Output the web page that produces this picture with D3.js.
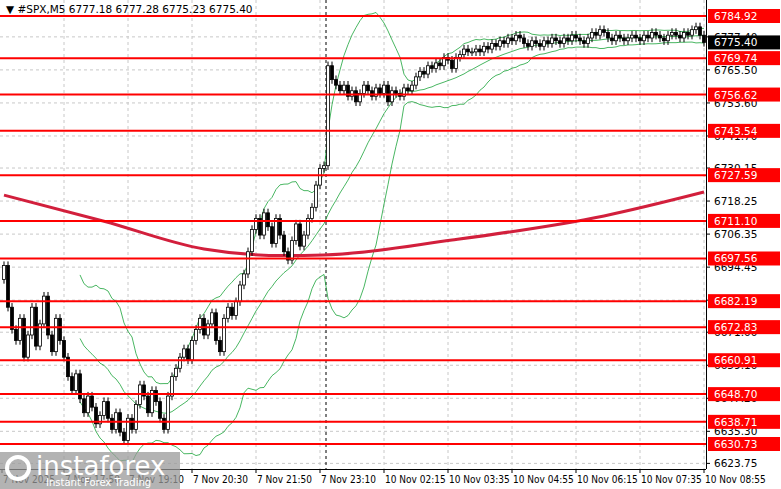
<!DOCTYPE html>
<html><head><meta charset="utf-8">
<script src="https://cdn.jsdelivr.net/npm/d3@7"></script>
<style>body{margin:0;background:#fff}svg{font-family:Tahoma,"DejaVu Sans",sans-serif}</style>
</head><body><div id="chart"></div>
<script>
// M5 closes
const closes = [6695,6680,6672,6668,6676,6662,6670,6680,6666,6674,6684,6670,6664,6676,6668,
  6662,6655,6650,6656,6647,6642,6648,6644,6638,6641,6646,6640,6636,6642,6635,6632,6640,6636,
  6645,6652,6648,6642,6650,6646,6640,6636,6648,6655,
  6658,6662,6665,6661,6668,6672,6676,6670,6674,6678,6668,6664,6676,6680,6677,6682,6688,6692,
  6700,6708,6712,6706,6714,6709,6703,6712,6706,6700,6697,6704,6710,6702,6706,
  6712,6716,6724,6730,6731,
  6767,6762,6760,6758,6760,6756,6758,6754,6757,6760,6758,6756,6759,6757,6760,6754,6758,6757,6756,6759,6758,
  6760,6763,6765,6764,6767,6766,6768,6767,6770,6769,6766,6770,6771,6773,6772,
  6772,6773,6772,6774,6773,6775,6774,6776,6775,6777,6776,6778,6777,6775,6774,6776,6775,6774,6776,6775,
  6777,6776,6775,6777,6776,6778,6777,6776,6775,6777,6779,6778,6780,6779,6777,6776,6778,6777,6776,6777,
  6778,6777,6776,6778,6777,6779,6778,6777,6776,6778,6779,6778,6777,6779,6778,6780,6781,6778,6775.4];
const firstOpen = 6690;
// slow moving average, [candle index, value]
const maPoints = [[0,6720.4],[25,6711],[50,6701],[70,6698.6],[80,6698.8],[112,6704.2],[150,6712.9],[175,6721.5]];
const levels = [6784.92,6769.74,6756.62,6743.54,6727.59,6711.10,6697.56,6682.19,6672.83,6660.91,6648.70,6638.71,6630.73];
const priceTicks = [6777.40,6765.50,6753.60,6741.70,6730.15,6718.25,6706.35,6694.45,6682.55,6671.00,6659.10,6647.20,6635.30,6623.75];
const timeLabels = ["7 Nov 2025","7 Nov 17:50","7 Nov 19:10","7 Nov 20:30","7 Nov 21:50","7 Nov 23:10","10 Nov 02:15","10 Nov 03:35","10 Nov 04:55","10 Nov 06:15","10 Nov 07:35","10 Nov 08:55"];
const lastPrice = 6775.40;

const W = 781, H = 489, right = 706, bottom = 469;
const svg = d3.select("#chart").append("svg").attr("width", W).attr("height", H);

const n = closes.length;
const x = d3.scaleLinear().domain([-0.5, n - 0.5]).range([2, right]);
const y = d3.scaleLinear().domain([6630.73, 6784.92]).range([444, 16]);

const candles = closes.map((c, i) => {
  const o = i ? closes[i - 1] : firstOpen;
  return {i, o, c, h: Math.max(o, c) + 1.5, l: Math.min(o, c) - 1.5};
});

// grid
const tickIdx = timeLabels.map((d, k) => k * 16 - 1);
svg.append("g").selectAll("line").data(tickIdx.slice(1)).join("line")
  .attr("x1", d => x(d)).attr("x2", d => x(d)).attr("y1", 0).attr("y2", bottom)
  .attr("stroke", "#c8c8c8").attr("stroke-dasharray", "3,3");
svg.append("g").selectAll("line").data(priceTicks).join("line")
  .attr("x1", 0).attr("x2", right).attr("y1", d => y(d)).attr("y2", d => y(d))
  .attr("stroke", "#c8c8c8").attr("stroke-dasharray", "3,3");
// period separator
svg.append("line").attr("x1", x(80.5)).attr("x2", x(80.5)).attr("y1", 0).attr("y2", bottom)
  .attr("stroke", "#000").attr("stroke-dasharray", "3,3");

// bollinger 20,2
const bb = [];
for (let i = 19; i < n; i++) {
  const w = closes.slice(i - 19, i + 1), m = d3.mean(w), s = d3.deviation(w) * Math.sqrt(19 / 20);
  bb.push({i, m, u: m + 2 * s, d: m - 2 * s});
}
["m", "u", "d"].forEach(k => svg.append("path").datum(bb)
  .attr("d", d3.line().x(d => x(d.i)).y(d => y(d[k])))
  .attr("fill", "none").attr("stroke", "#1aa33a").attr("stroke-width", 0.8));

// moving average
svg.append("path").datum(maPoints)
  .attr("d", d3.line().x(d => x(d[0])).y(d => y(d[1])).curve(d3.curveMonotoneX))
  .attr("fill", "none").attr("stroke", "#d21f3c").attr("stroke-width", 3);

// candles
const cg = svg.append("g").selectAll("g").data(candles).join("g");
cg.append("line").attr("x1", d => x(d.i)).attr("x2", d => x(d.i))
  .attr("y1", d => y(d.h)).attr("y2", d => y(d.l)).attr("stroke", "#000");
cg.append("rect").attr("x", d => x(d.i) - 1.5).attr("width", 3)
  .attr("y", d => y(Math.max(d.o, d.c))).attr("height", d => Math.max(1, Math.abs(y(d.o) - y(d.c))))
  .attr("fill", d => d.c >= d.o ? "#fff" : "#000").attr("stroke", "#000").attr("stroke-width", 0.8);

// levels
svg.append("g").selectAll("line").data(levels).join("line")
  .attr("x1", 0).attr("x2", right).attr("y1", d => y(d)).attr("y2", d => y(d))
  .attr("stroke", "#ff0000").attr("stroke-width", 2);

// axes frame
svg.append("line").attr("x1", right + 0.5).attr("x2", right + 0.5).attr("y1", 0).attr("y2", bottom).attr("stroke", "#000");
svg.append("line").attr("x1", 0).attr("x2", right).attr("y1", bottom + 0.5).attr("y2", bottom + 0.5).attr("stroke", "#000");

const ax = svg.append("g").attr("font-size", 10.5);
priceTicks.forEach(p => {
  ax.append("line").attr("x1", right).attr("x2", right + 4).attr("y1", y(p)).attr("y2", y(p)).attr("stroke", "#000");
  ax.append("text").attr("x", right + 8).attr("y", y(p) + 4).text(p.toFixed(2));
});
levels.forEach(p => {
  ax.append("rect").attr("x", right + 2).attr("y", y(p) - 7).attr("width", 72).attr("height", 14).attr("fill", "#ff0000");
  ax.append("text").attr("x", right + 8).attr("y", y(p) + 4).attr("fill", "#fff").text(p.toFixed(2));
});
ax.append("rect").attr("x", right + 2).attr("y", y(lastPrice) - 7).attr("width", 72).attr("height", 14).attr("fill", "#000");
ax.append("text").attr("x", right + 8).attr("y", y(lastPrice) + 4).attr("fill", "#fff").text(lastPrice.toFixed(2));

const tg = svg.append("g").attr("font-size", 10).attr("font-family", "'DejaVu Sans Condensed','Liberation Sans Narrow',sans-serif");
timeLabels.forEach((t, k) => {
  const tx = k ? x(tickIdx[k]) : 2;
  tg.append("line").attr("x1", tx).attr("x2", tx).attr("y1", bottom).attr("y2", bottom + 4).attr("stroke", "#000");
  tg.append("text").attr("x", tx + 1).attr("y", bottom + 14).text(t);
});

// header
svg.append("text").attr("x", 6).attr("y", 13).attr("font-size", 10.5)
  .text("\u25BC #SPX,M5  6777.18 6777.28 6775.23 6775.40");

// watermark
const wm = svg.append("g");
wm.append("rect").attr("x", 0).attr("y", 452).attr("width", 180).attr("height", 37).attr("fill", "#999").attr("opacity", 0.75);
wm.append("text").attr("x", 36).attr("y", 475).attr("font-size", 26).attr("fill", "#fff").text("instaforex");
wm.append("text").attr("x", 46).attr("y", 486).attr("font-size", 10).attr("fill", "#fff").text("Instant Forex Trading");
wm.append("circle").attr("cx", 18).attr("cy", 468).attr("r", 11).attr("fill", "none").attr("stroke", "#fff").attr("stroke-width", 4);
</script></body></html>
